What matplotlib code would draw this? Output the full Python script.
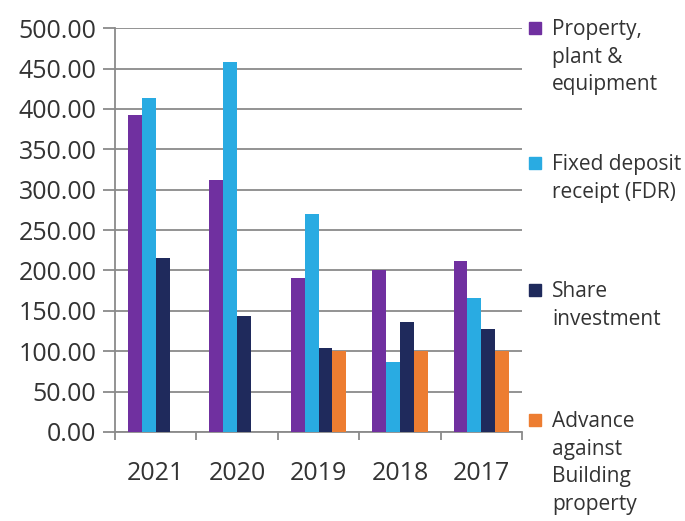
import numpy as np
import matplotlib.pyplot as plt
from matplotlib.patches import Rectangle

plt.rcParams['font.family'] = ['Open Sans', 'DejaVu Sans']

years = ['2021', '2020', '2019', '2018', '2017']
ppe = [392, 312, 190, 200, 212]
fdr = [413, 458, 270, 87, 166]
share = [215, 143, 104, 136, 128]
advance = [0, 0, 100, 100, 100]

series = [ppe, fdr, share, advance]
labels = ['Property,\nplant &\nequipment', 'Fixed deposit\nreceipt (FDR)',
          'Share\ninvestment', 'Advance\nagainst\nBuilding\nproperty']
colors = ['#7030A0', '#29ABE2', '#1F2A5C', '#ED7D31']

fig = plt.figure(figsize=(6.85, 5.21), dpi=100)
ax = fig.add_axes([0.168, 0.171, 0.594, 0.775])

x = np.arange(len(years))
w = 0.17
for i, (vals, c) in enumerate(zip(series, colors)):
    ax.bar(x + (i - 1.5) * w, vals, width=w, color=c, zorder=3)

ax.set_xlim(-0.5, len(years) - 0.5)
ax.set_ylim(0, 500)
ax.set_yticks(np.arange(0, 501, 50))
ax.set_yticklabels([f'{v:.2f}' for v in np.arange(0, 501, 50)])
ax.set_xticks(x)
ax.set_xticklabels(years)
ax.set_xticks(np.arange(-0.5, len(years)), minor=True)

ax.grid(axis='y', color='#8a8a8a', linewidth=1.3, zorder=0)
ax.tick_params(axis='y', length=8.5, width=1.3, color='#8a8a8a', pad=5,
               labelsize=18, labelcolor='#333333')
ax.tick_params(axis='x', which='major', length=0, pad=21,
               labelsize=18, labelcolor='#333333')
ax.tick_params(axis='x', which='minor', length=6, width=1.3, color='#8a8a8a')

for s in ['top', 'right']:
    ax.spines[s].set_visible(False)
for s in ['left', 'bottom']:
    ax.spines[s].set_color('#8a8a8a')
    ax.spines[s].set_linewidth(1.3)

# legend drawn by hand so the marker sits on the first text line
H = 521.0
W = 685.0
legend_y = [28, 163, 290, 420]
for lab, c, yy in zip(labels, colors, legend_y):
    fig.add_artist(Rectangle((529 / W, 1 - (yy + 6) / H), 12 / W, 12 / H,
                             transform=fig.transFigure, color=c))
    fig.text(552 / W, 1 - (yy - 9) / H, lab, fontsize=15, color='#333333',
             va='top', ha='left', linespacing=1.42)

fig.savefig('out.png', dpi=100)
